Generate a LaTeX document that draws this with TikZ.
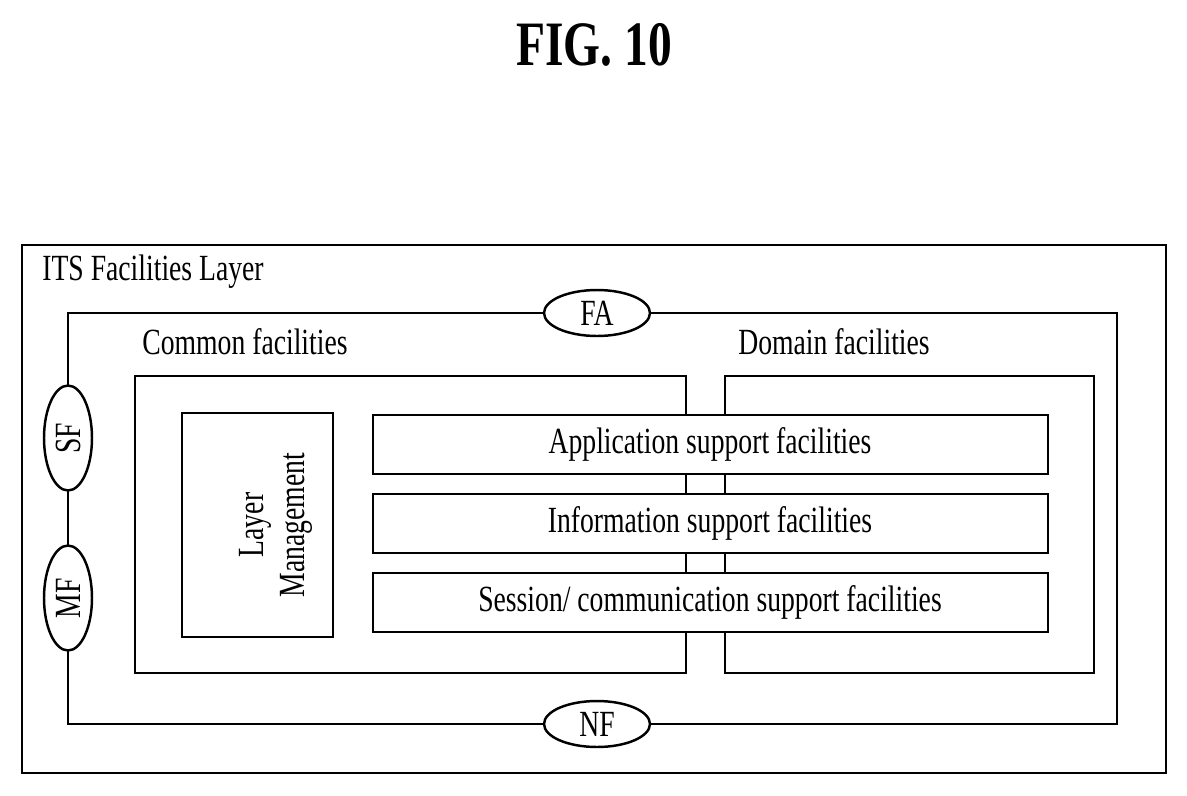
\documentclass[tikz,border=0pt]{standalone}
\usepackage{fontspec}
\setmainfont{Liberation Serif}[FakeStretch=0.75]
\usetikzlibrary{shapes.geometric}
\tikzset{
  box/.style={draw, line width=1.4pt, fill=white},
  port/.style={draw, line width=1.4pt, ellipse, fill=white, inner sep=0pt, font=\fontsize{21}{23}\selectfont},
  hport/.style={port, minimum width=2.12cm, minimum height=0.92cm},
  vport/.style={port, minimum width=0.96cm, minimum height=2.1cm},
  lbl/.style={font=\fontsize{21}{23}\selectfont, inner sep=0pt}
}
\begin{document}
\begin{tikzpicture}[x=0.02cm, y=-0.02cm]
  \useasboundingbox (0,0) rectangle (1187,795);

  % title
  \node[font=\fontsize{36}{40}\selectfont\bfseries] (title) at (594,45) {FIG. 10};

  % layer frame
  \draw[line width=1.4pt] (22,245) rectangle (1166,773);
  \node[lbl, anchor=west] (layer) at (42,272) {ITS Facilities Layer};

  % loop with interface ports
  \draw[line width=1.4pt] (68,313) rectangle (1117,724);
  \node[hport] (FA) at (597,313) {FA};
  \node[hport] (NF) at (597,724) {NF};
  \node[vport] (SF) at (68,438) {\rotatebox{90}{SF}};
  \node[vport] (MF) at (68,598) {\rotatebox{90}{MF}};

  % common and domain facilities
  \node[lbl, anchor=west] (common) at (142,342) {Common facilities};
  \node[lbl, anchor=west] (domain) at (738,342) {Domain facilities};
  \draw[line width=1.4pt] (135,376) rectangle (686,673);
  \draw[line width=1.4pt] (725,376) rectangle (1094,673);

  % layer management
  \draw[box] (182,413) rectangle (333,637);
  \node[lbl, rotate=90, align=center] (mgmt) at (276,525) {Layer\\Management};

  % support facilities
  \draw[box] (373,415) rectangle (1048,474);
  \node[lbl] (app) at (710,444) {Application support facilities};
  \draw[box] (373,494) rectangle (1048,553);
  \node[lbl] (info) at (710,523) {Information support facilities};
  \draw[box] (373,573) rectangle (1048,632);
  \node[lbl] (sess) at (710,602) {Session/ communication support facilities};
\end{tikzpicture}
\end{document}
